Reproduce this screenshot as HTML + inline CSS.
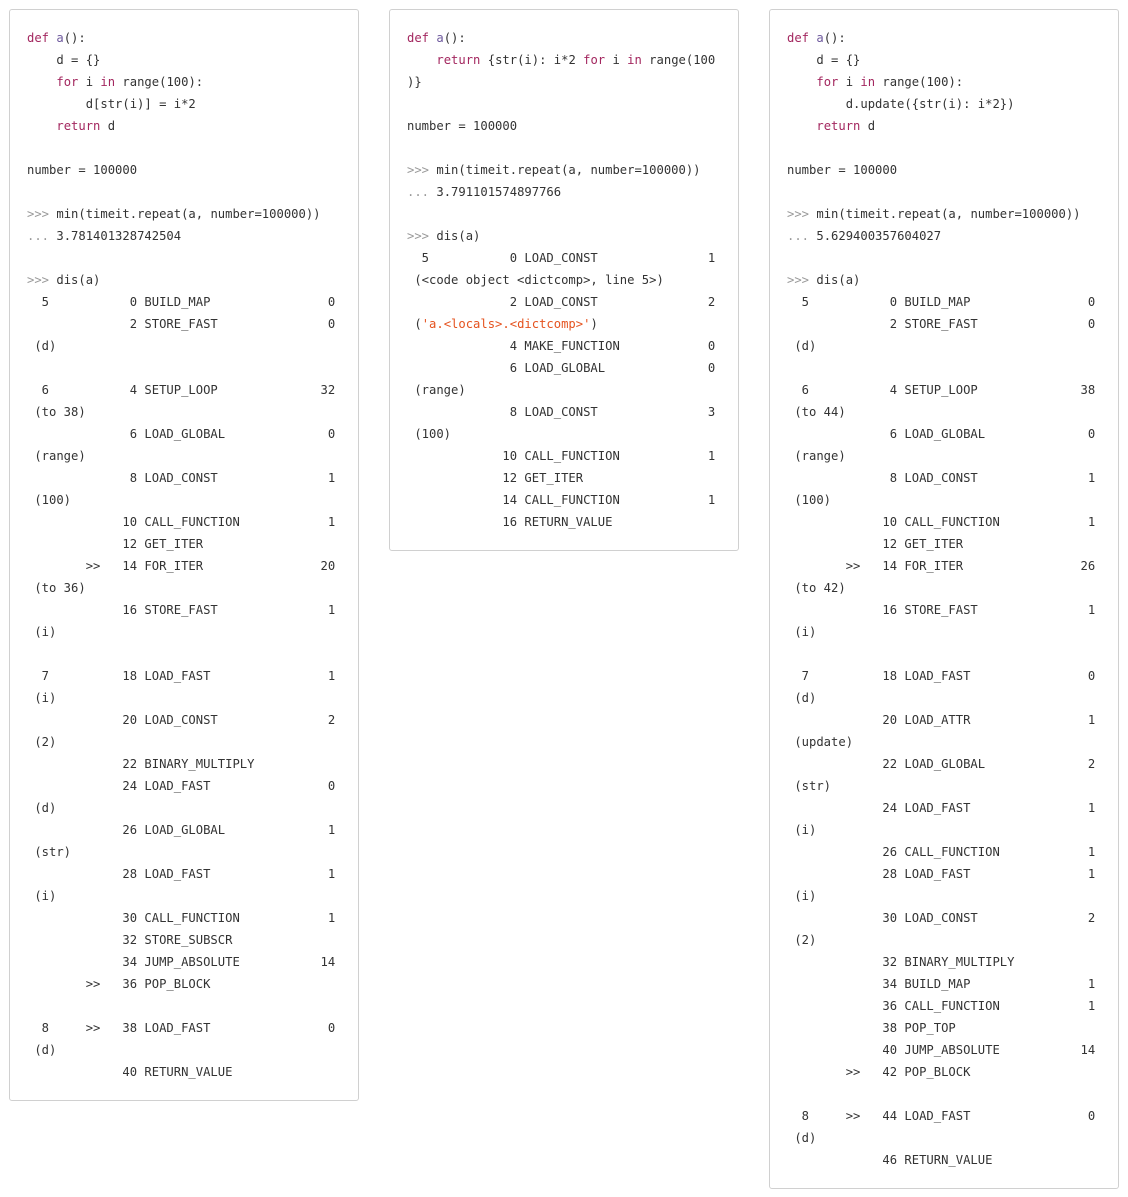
<!DOCTYPE html>
<html><head><style>
html,body{margin:0;padding:0;background:#fff;width:1128px;height:1197px;overflow:hidden}
.b{position:absolute;box-sizing:border-box;border:1px solid #d0d0d0;border-radius:3px;background:#fff;width:350px}
pre{margin:0;position:absolute;left:17px;top:17px;font-family:"DejaVu Sans Mono","Liberation Mono",monospace;font-size:12.2px;line-height:22px;color:#333}
.k{color:#a3275f}.f{color:#6f5a9e}.p{color:#999}.s{color:#e5531f}
</style></head><body>
<div class="b" style="left:9px;top:9px;height:1092px"><pre><span class="k">def</span> <span class="f">a</span>():
    d = {}
    <span class="k">for</span> i <span class="k">in</span> range(100):
        d[str(i)] = i*2
    <span class="k">return</span> d

number = 100000

<span class="p">&gt;&gt;&gt;</span> min(timeit.repeat(a, number=100000))
<span class="p">...</span> 3.781401328742504

<span class="p">&gt;&gt;&gt;</span> dis(a)
  5           0 BUILD_MAP                0
              2 STORE_FAST               0
 (d)

  6           4 SETUP_LOOP              32
 (to 38)
              6 LOAD_GLOBAL              0
 (range)
              8 LOAD_CONST               1
 (100)
             10 CALL_FUNCTION            1
             12 GET_ITER
        &gt;&gt;   14 FOR_ITER                20
 (to 36)
             16 STORE_FAST               1
 (i)

  7          18 LOAD_FAST                1
 (i)
             20 LOAD_CONST               2
 (2)
             22 BINARY_MULTIPLY
             24 LOAD_FAST                0
 (d)
             26 LOAD_GLOBAL              1
 (str)
             28 LOAD_FAST                1
 (i)
             30 CALL_FUNCTION            1
             32 STORE_SUBSCR
             34 JUMP_ABSOLUTE           14
        &gt;&gt;   36 POP_BLOCK

  8     &gt;&gt;   38 LOAD_FAST                0
 (d)
             40 RETURN_VALUE</pre></div>

<div class="b" style="left:389px;top:9px;height:542px"><pre><span class="k">def</span> <span class="f">a</span>():
    <span class="k">return</span> {str(i): i*2 <span class="k">for</span> i <span class="k">in</span> range(100
)}

number = 100000

<span class="p">&gt;&gt;&gt;</span> min(timeit.repeat(a, number=100000))
<span class="p">...</span> 3.791101574897766

<span class="p">&gt;&gt;&gt;</span> dis(a)
  5           0 LOAD_CONST               1
 (&lt;code object &lt;dictcomp&gt;, line 5&gt;)
              2 LOAD_CONST               2
 (<span class="s">'a.&lt;locals&gt;.&lt;dictcomp&gt;'</span>)
              4 MAKE_FUNCTION            0
              6 LOAD_GLOBAL              0
 (range)
              8 LOAD_CONST               3
 (100)
             10 CALL_FUNCTION            1
             12 GET_ITER
             14 CALL_FUNCTION            1
             16 RETURN_VALUE</pre></div>

<div class="b" style="left:769px;top:9px;height:1180px"><pre><span class="k">def</span> <span class="f">a</span>():
    d = {}
    <span class="k">for</span> i <span class="k">in</span> range(100):
        d.update({str(i): i*2})
    <span class="k">return</span> d

number = 100000

<span class="p">&gt;&gt;&gt;</span> min(timeit.repeat(a, number=100000))
<span class="p">...</span> 5.629400357604027

<span class="p">&gt;&gt;&gt;</span> dis(a)
  5           0 BUILD_MAP                0
              2 STORE_FAST               0
 (d)

  6           4 SETUP_LOOP              38
 (to 44)
              6 LOAD_GLOBAL              0
 (range)
              8 LOAD_CONST               1
 (100)
             10 CALL_FUNCTION            1
             12 GET_ITER
        &gt;&gt;   14 FOR_ITER                26
 (to 42)
             16 STORE_FAST               1
 (i)

  7          18 LOAD_FAST                0
 (d)
             20 LOAD_ATTR                1
 (update)
             22 LOAD_GLOBAL              2
 (str)
             24 LOAD_FAST                1
 (i)
             26 CALL_FUNCTION            1
             28 LOAD_FAST                1
 (i)
             30 LOAD_CONST               2
 (2)
             32 BINARY_MULTIPLY
             34 BUILD_MAP                1
             36 CALL_FUNCTION            1
             38 POP_TOP
             40 JUMP_ABSOLUTE           14
        &gt;&gt;   42 POP_BLOCK

  8     &gt;&gt;   44 LOAD_FAST                0
 (d)
             46 RETURN_VALUE</pre></div>
</body></html>
